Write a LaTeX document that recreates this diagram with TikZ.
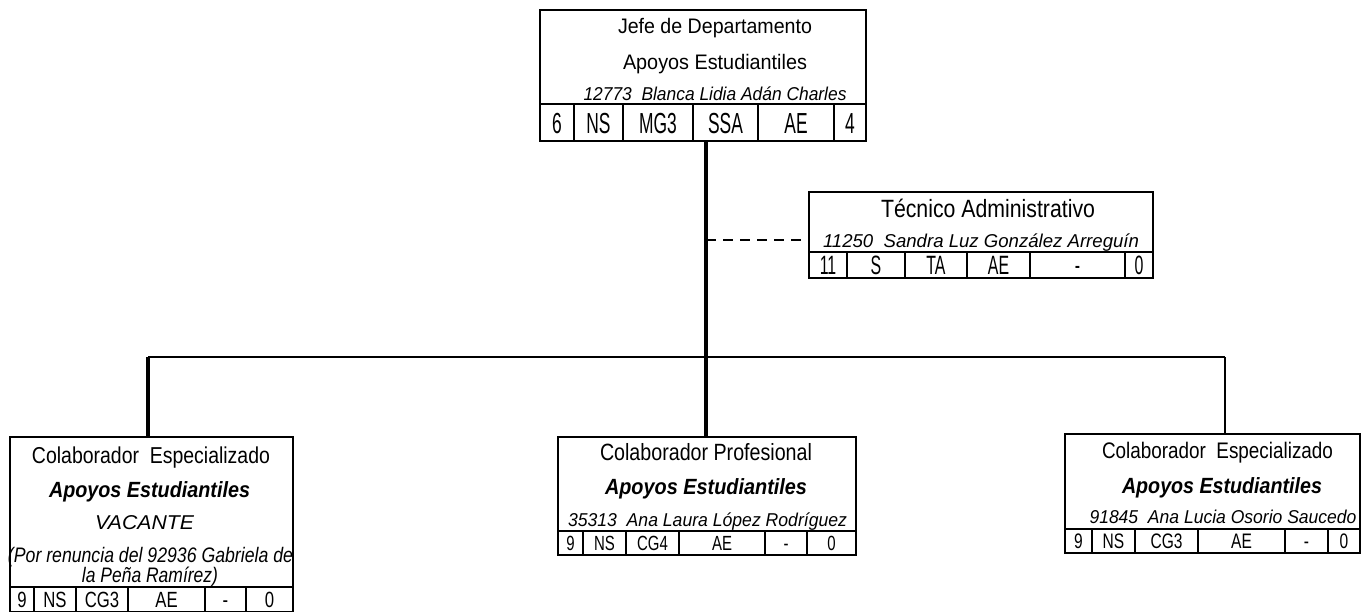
\documentclass[tikz,border=0pt]{standalone}
\usepackage{fontspec}
\setmainfont{Liberation Sans}
\usepackage{graphicx}
\newcommand\fw[2]{\resizebox{#1pt}{\height}{#2}}
\newcommand\fsz[1]{\fontsize{#1}{#1}\selectfont}
\newcommand\cellrow[7]{%
  \foreach \xa/\xb/\xt [count=\xi] in {#7}{%
    \node[cell,font=\fsz{#4},text height=#5pt,text depth=0pt,
      minimum width={(\xb-\xa)*1pt},minimum height={(#3-#2)*1pt}]
      (#1\xi) at ({(\xa+\xb)/2},{(#2+#3)/2}) {\scalebox{#6}[1]{\xt}};
  }%
}
\tikzset{
  box/.style={draw,line width=2.5pt,inner sep=0pt},
  cell/.style={draw,line width=1.8pt,inner sep=0pt},
  txt/.style={anchor=base,inner sep=0pt},
  thickline/.style={line width=3.5pt},
  midline/.style={line width=2.5pt},
  thinline/.style={line width=2pt},
  dashline/.style={line width=1.6pt,dash pattern=on 10pt off 7pt}
}
\begin{document}
\begin{tikzpicture}[x=1pt,y=-1pt]
\fill[white] (0,0) rectangle (1364,611);
\useasboundingbox (0,0) rectangle (1364,611);

% boxes
\node[box,minimum width=326pt,minimum height=131pt] (jefe) at (703,75.5) {};
\node[box,minimum width=344pt,minimum height=86pt] (tec) at (981,235) {};
\node[box,minimum width=283pt,minimum height=175pt] (colA) at (151.5,524.5) {};
\node[box,minimum width=298pt,minimum height=118pt] (colB) at (707,496) {};
\node[box,minimum width=295pt,minimum height=119pt] (colC) at (1212.5,493.5) {};

% table rows
\cellrow{j}{104}{141}{29}{21}{0.6}{540/574/6,574/623/NS,623/693/MG3,693/758/SSA,758/834/AE,834/866/4}
\cellrow{t}{252}{278}{26.5}{19}{0.6}{809/847/11,847/905/S,905/967/TA,967/1030/AE,1030/1125/-,1125/1153/0}
\cellrow{a}{587}{612}{22}{16}{0.76}{10/34/9,34/76/NS,76/128/CG3,128/205/AE,205/246/-,246/293/0}
\cellrow{b}{531}{555}{20.5}{14.7}{0.73}{558/583/9,583/626/NS,626/679/CG4,679/765/AE,765/807/-,807/856/0}
\cellrow{c}{529}{553}{21}{15}{0.74}{1065/1092/9,1092/1135/NS,1135/1198/CG3,1198/1285/AE,1285/1328/-,1328/1360/0}

% texts: top
\node[txt,font=\fsz{21}] (jt1) at (715,33) {\fw{194}{Jefe de Departamento}};
\node[txt,font=\fsz{21}] (jt2) at (715,69) {\fw{184}{Apoyos Estudiantiles}};
\node[txt,font=\fsz{18.6}\itshape] (jt3) at (715,100) {\fw{263}{12773~~Blanca Lidia Adán Charles}};
% tecnico
\node[txt,font=\fsz{25}] (tt1) at (988,217) {\fw{214}{Técnico Administrativo}};
\node[txt,font=\fsz{18.6}\itshape] (tt2) at (981,247) {\fw{316}{11250~~Sandra Luz González Arreguín}};
% left
\node[txt,font=\fsz{23}] (at1) at (151,463) {\fw{238}{Colaborador~~Especializado}};
\node[txt,font=\fsz{22}\bfseries\itshape] (at2) at (149.5,497) {\fw{201}{Apoyos Estudiantiles}};
\node[txt,font=\fsz{20}\itshape] (at3) at (144.5,529) {\fw{99}{VACANTE}};
\node[txt,font=\fsz{21}\itshape] (at4) at (150.5,562) {\fw{285}{(Por renuncia del 92936 Gabriela de}};
\node[txt,font=\fsz{21}\itshape] (at5) at (150,582) {\fw{136}{la Peña Ramírez)}};
% center
\node[txt,font=\fsz{23.5}] (bt1) at (706,460) {\fw{212}{Colaborador Profesional}};
\node[txt,font=\fsz{22}\bfseries\itshape] (bt2) at (706,494) {\fw{202}{Apoyos Estudiantiles}};
\node[txt,font=\fsz{18.6}\itshape] (bt3) at (707.5,526) {\fw{279}{35313~~Ana Laura López Rodríguez}};
% right
\node[txt,font=\fsz{22.5}] (ct1) at (1217.5,458) {\fw{231}{Colaborador~~Especializado}};
\node[txt,font=\fsz{22}\bfseries\itshape] (ct2) at (1222,493) {\fw{200}{Apoyos Estudiantiles}};
\node[txt,font=\fsz{18.6}\itshape] (ct3) at (1223,523) {\fw{267}{91845~~Ana Lucia Osorio Saucedo}};

% connectors
\coordinate (hub) at (706,357);
\coordinate (hl) at (148,357);
\coordinate (hr) at (1225,357);
\coordinate (dash) at (706,240);
\draw[thickline] (jefe.south -| hub) -- (hub);
\draw[midline] (hl) -- (hr);
\draw[thickline] (hl) -- (colA.north -| hl);
\draw[thickline] (hub) -- (colB.north -| hub);
\draw[thinline] (hr) -- (colC.north -| hr);
\draw[dashline] (dash) -- (tec.west |- dash);
\end{tikzpicture}
\end{document}
